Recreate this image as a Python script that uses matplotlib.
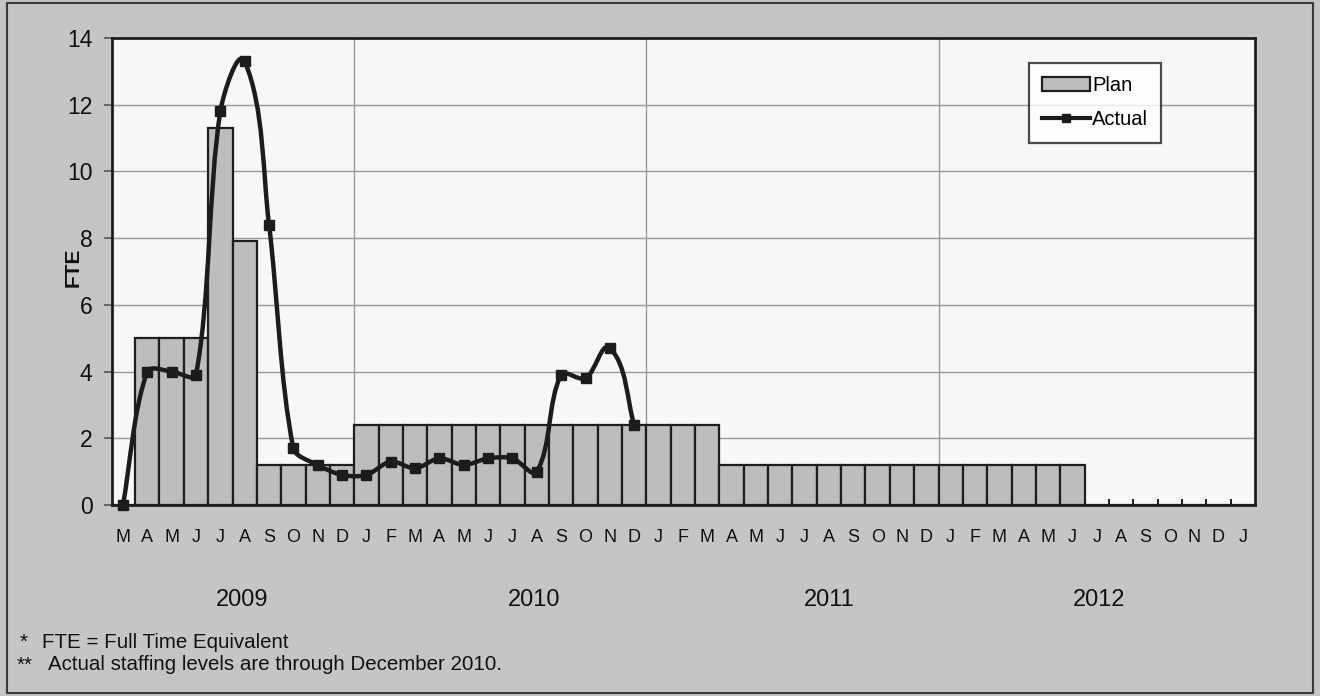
import matplotlib
matplotlib.use('Agg')
import matplotlib.pyplot as plt
from matplotlib.path import Path
from matplotlib.patches import PathPatch, Patch, Rectangle
from matplotlib.lines import Line2D
import matplotlib.transforms as mtransforms
import math

plt.rcParams['font.family'] = ['Liberation Sans', 'DejaVu Sans']

# ---------------- data ----------------
month_labels = ['M', 'A', 'M', 'J', 'J', 'A', 'S', 'O', 'N', 'D',
                'J', 'F', 'M', 'A', 'M', 'J', 'J', 'A', 'S', 'O', 'N', 'D',
                'J', 'F', 'M', 'A', 'M', 'J', 'J', 'A', 'S', 'O', 'N', 'D',
                'J', 'F', 'M', 'A', 'M', 'J', 'J', 'A', 'S', 'O', 'N', 'D',
                'J']
plan = [0, 5, 5, 5, 11.3, 7.9, 1.2, 1.2, 1.2, 1.2,
        2.4, 2.4, 2.4, 2.4, 2.4, 2.4, 2.4, 2.4, 2.4, 2.4, 2.4, 2.4,
        2.4, 2.4, 2.4, 1.2, 1.2, 1.2, 1.2, 1.2, 1.2, 1.2, 1.2, 1.2,
        1.2, 1.2, 1.2, 1.2, 1.2, 1.2, 0, 0, 0, 0, 0, 0,
        0]
actual = [0, 4.0, 4.0, 3.9, 11.8, 13.3, 8.4, 1.7, 1.2, 0.9,
          0.9, 1.3, 1.1, 1.4, 1.2, 1.4, 1.4, 1.0, 3.9, 3.8, 4.7, 2.4]
years = ['2009', '2010', '2011', '2012']
year_positions = [4.9, 16.9, 29.0, 40.1]
year_boundaries = [9.5, 21.5, 33.5]
y_ticks = [0, 2, 4, 6, 8, 10, 12, 14]

# ---------------- figure ----------------
W, H = 1320, 696
fig = plt.figure(figsize=(W / 100, H / 100), dpi=100, facecolor='#c5c5c5')
ax = fig.add_axes([112 / W, 1 - 505 / H, (1255 - 112) / W, (505 - 38) / H])
ax.set_facecolor('#f7f7f7')

x = list(range(len(month_labels)))
ax.set_xlim(-0.45, 46.5)
ax.set_ylim(0, 14)

# gridlines
for yv in y_ticks[1:-1]:
    ax.axhline(yv, color='#9a9a9a', lw=1.0, zorder=0.5)
for xb in year_boundaries:
    ax.axvline(xb, color='#9a9a9a', lw=1.0, zorder=0.5)

# bars (plan)
ax.bar(x, plan, width=1.0, color='#bdbdbd', edgecolor='#1e1e1e',
       linewidth=1.6, zorder=1)

# smoothed actual line: Bezier through the data points with tangents
# computed in screen-proportional space (similar to spreadsheet smoothing)
xa = list(range(len(actual)))
sx = (1255 - 112) / 46.95   # px per x unit (for tangent shaping only)
sy = (505 - 38) / 14.0      # px per y unit
pts = list(zip(xa, actual))
n = len(pts)


def tangent(i):
    a = pts[i - 1] if i > 0 else pts[i]
    b = pts[i + 1] if i < n - 1 else pts[i]
    dx, dy = (b[0] - a[0]) * sx, (b[1] - a[1]) * sy
    L = math.hypot(dx, dy) or 1.0
    return dx / L, dy / L


k = 0.3
verts = [pts[0]]
codes = [Path.MOVETO]
for i in range(n - 1):
    p1, p2 = pts[i], pts[i + 1]
    seg = math.hypot((p2[0] - p1[0]) * sx, (p2[1] - p1[1]) * sy)
    t1, t2 = tangent(i), tangent(i + 1)
    c1 = (p1[0] + t1[0] * seg * k / sx, p1[1] + t1[1] * seg * k / sy)
    c2 = (p2[0] - t2[0] * seg * k / sx, p2[1] - t2[1] * seg * k / sy)
    verts += [c1, c2, p2]
    codes += [Path.CURVE4, Path.CURVE4, Path.CURVE4]
ax.add_patch(PathPatch(Path(verts, codes), facecolor='none',
                       edgecolor='#1c1c1c', lw=3.2, zorder=3,
                       capstyle='round', joinstyle='round'))
ax.plot(xa, actual, linestyle='none', marker='s', markersize=7,
        color='#1c1c1c', zorder=4, clip_on=False)

# axes
ax.set_yticks(y_ticks)
ax.set_yticklabels([str(v) for v in y_ticks], fontsize=16.5, color='#111111')
ax.tick_params(axis='y', direction='out', length=6, width=1.2,
               color='#555555', pad=8)
ax.set_xticks(x)
ax.set_xticklabels(month_labels, fontsize=13, color='#111111')
ax.tick_params(axis='x', which='major', length=0, pad=17)
ax.set_xticks([i + 0.5 for i in x[:-1]], minor=True)
ax.tick_params(axis='x', which='minor', direction='in', length=4,
               width=1.4, color='#1e1e1e')
for s in ax.spines.values():
    s.set_color('#1e1e1e')
    s.set_linewidth(2.0)

# y axis label
ax.text(-0.034, 0.51, 'FTE', transform=ax.transAxes, rotation=90,
        fontsize=15, fontweight='bold', ha='center', va='center',
        color='#111111')

# year labels
trans = mtransforms.blended_transform_factory(ax.transData, ax.transAxes)
for yr, xp in zip(years, year_positions):
    ax.text(xp, -0.203, yr, transform=trans, ha='center', va='center',
            fontsize=17, color='#111111')

# legend
handles = [Patch(facecolor='#bdbdbd', edgecolor='#1e1e1e', linewidth=1.6,
                 label='Plan'),
           Line2D([0], [0], color='#1c1c1c', lw=3, marker='s',
                  markersize=6, label='Actual')]
leg = ax.legend(handles=handles, loc='upper left',
                bbox_to_anchor=(0.802, 0.946), borderaxespad=0,
                fontsize=14.5, frameon=True, fancybox=False,
                handlelength=2.4, handletextpad=0.1, labelspacing=0.75,
                borderpad=0.65)
leg.get_frame().set_edgecolor('#1e1e1e')
leg.get_frame().set_linewidth(1.6)
leg.get_frame().set_facecolor('#ffffff')

# footnotes
fs = 14.8
fig.text(20 / W, 1 - 642 / H, '*', fontsize=fs, ha='left', va='center',
         color='#111111')
fig.text(42 / W, 1 - 642 / H, 'FTE = Full Time Equivalent', fontsize=fs,
         ha='left', va='center', color='#111111')
fig.text(17 / W, 1 - 665 / H, '**', fontsize=fs, ha='left', va='center',
         color='#111111')
fig.text(48 / W, 1 - 665 / H, 'Actual staffing levels are through December 2010.',
         fontsize=fs, ha='left', va='center', color='#111111')

# figure border
fig.add_artist(Rectangle((7 / W, 3 / H), (1313 - 7) / W, (693 - 3) / H,
                         transform=fig.transFigure, fill=False,
                         edgecolor='#3a3a3a', linewidth=1.5))

fig.savefig('out.png', dpi=100, facecolor=fig.get_facecolor())
